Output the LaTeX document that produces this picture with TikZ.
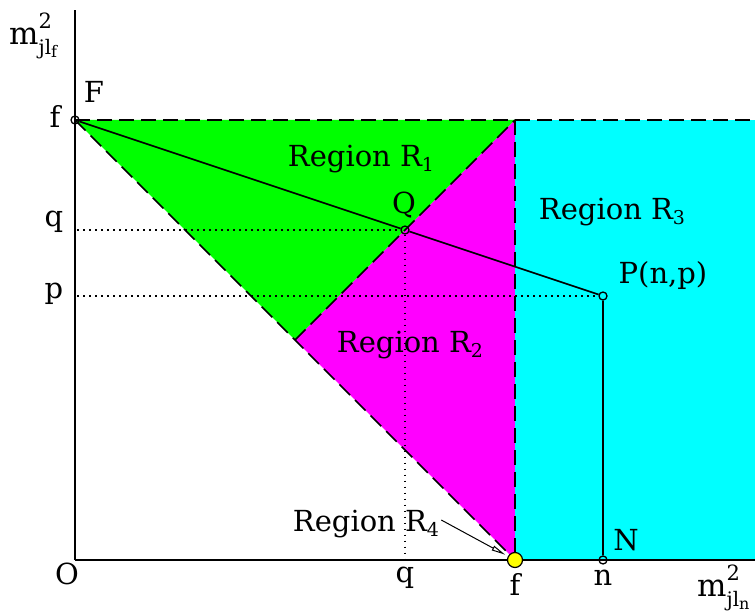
\documentclass[tikz,border=0pt]{standalone}
\usepackage{fontspec}
\setmainfont{DejaVu Serif}
\usetikzlibrary{arrows.meta}
\definecolor{rgreen}{RGB}{0,255,0}
\definecolor{rmagenta}{RGB}{255,0,255}
\definecolor{rcyan}{RGB}{0,255,255}
\definecolor{ryellow}{RGB}{255,255,0}
\newcommand\mysub[1]{\raisebox{-5pt}{\fontsize{19}{19}\selectfont #1}}
\newcommand\axlab[1]{{\fontsize{31}{31}\selectfont m}\rlap{\raisebox{16pt}{\fontsize{21}{21}\selectfont 2}}\raisebox{-10pt}{\fontsize{20}{20}\selectfont jl\raisebox{-3pt}{\fontsize{16}{16}\selectfont #1}}}
\tikzset{
  lbl/.style={inner sep=0pt, font=\fontsize{29}{32}\selectfont},
  dashline/.style={line width=1.7pt, dash pattern=on 15pt off 7pt},
  axis/.style={line width=1.8pt},
  dotline/.style={line width=1.3pt, dash pattern=on 1.5pt off 4.5pt},
  pt/.style={circle, draw, line width=1.3pt, fill=none, minimum size=8pt, inner sep=0pt},
}
\begin{document}
\begin{tikzpicture}[x=1pt,y=-1pt]
\useasboundingbox (0,0) rectangle (755,612);
% fills
\fill[rgreen] (75,120) -- (515,120) -- (295,340) -- cycle;
\fill[rmagenta] (295,340) -- (515,120) -- (515,560) -- cycle;
\fill[rcyan] (515,120) rectangle (755,560);
% dashed boundaries
\coordinate (F0) at (75,120);
\coordinate (topR) at (755,120);
\coordinate (fx) at (515,560);
\coordinate (ftop) at (515,120);
\coordinate (mid) at (295,340);
\draw[dashline] (F0) -- (topR);
\draw[dashline] (F0) -- (fx);
\draw[dashline] (mid) -- (ftop);
\draw[dashline] (ftop) -- (fx);
% axes
\coordinate (O) at (75,560);
\coordinate (ytop) at (75,10);
\coordinate (xend) at (755,560);
\draw[axis] (O) -- (ytop);
\draw[axis] (O) -- (xend);
% points
\node[pt] (F) at (75,120) {};
\node[pt] (Q) at (405,230) {};
\node[pt] (P) at (603,296) {};
\node[pt] (N) at (603,560) {};
\coordinate (qy) at (77,230);
\coordinate (py) at (77,296);
\coordinate (qx) at (405,560);
% dotted guides
\draw[dotline] (qy) -- (Q);
\draw[dotline] (Q) -- (qx);
\draw[dotline] (py) -- (P);
% solid lines
\draw[line width=1.6pt] (F) -- (Q) -- (P) -- (N);
% yellow dot
\node[circle, draw, line width=1.2pt, fill=ryellow, minimum size=15pt, inner sep=0pt] (fdot) at (515,560) {};
% labels
\node[lbl, anchor=base west, inner sep=0pt] (ylab) at (9,45) {\axlab{f}};
\node[lbl, anchor=base west, inner sep=0pt] (xlab) at (697,596) {\axlab{n}};
\node[lbl] (fy) at (55,116) {f};
\node[lbl] (qyl) at (54,222) {q};
\node[lbl] (pyl) at (54,294) {p};
\node[lbl] (Ol) at (67,574) {O};
\node[lbl] (qxl) at (405,578) {q};
\node[lbl] (fxl) at (515,584) {f};
\node[lbl] (nxl) at (603,578) {n};
\node[lbl] (Fl) at (94,92) {F};
\node[lbl] (Ql) at (404,205) {Q};
\node[lbl] (Pl) at (663,276) {P(n,p)};
\node[lbl] (Nl) at (626,540) {N};
\node[lbl] (R1) at (361,159) {Region R\mysub{1}};
\node[lbl] (R2) at (410,345) {Region R\mysub{2}};
\node[lbl] (R3) at (612,212) {Region R\mysub{3}};
\node[lbl] (R4) at (366,524) {Region R\mysub{4}};
\draw[line width=1pt, -{Triangle[open,length=14pt,width=5pt]}, shorten >=3pt] (R4.east) ++(2,-4) -- (fdot);
\end{tikzpicture}
\end{document}
